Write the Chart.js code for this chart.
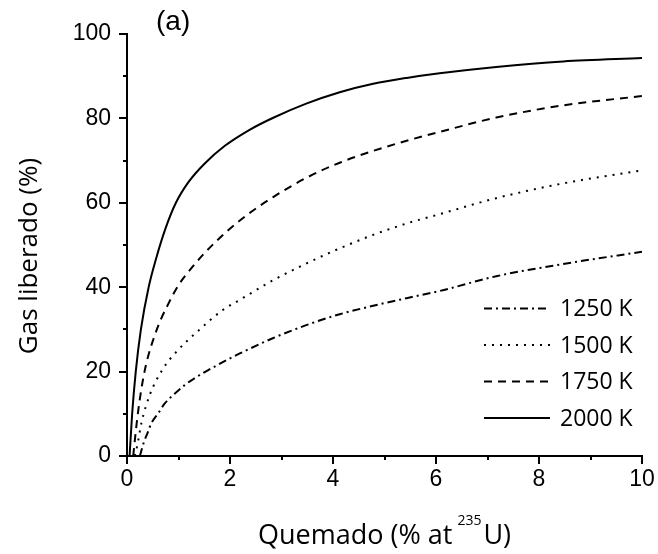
<!DOCTYPE html>
<html><head><meta charset="utf-8">
<script src="https://cdn.jsdelivr.net/npm/chart.js@4/dist/chart.umd.min.js"></script>
<style>html,body{margin:0;padding:0;background:#fff}canvas{display:block}</style>
</head><body>
<canvas id="c" width="658" height="554"></canvas>
<script>
// ---- data ----
const seriesLabels = ['1250 K', '1500 K', '1750 K', '2000 K'];

const burnup1250 = [0.25, 0.32, 0.4, 0.47, 0.6, 0.73, 0.93, 1.12, 1.31, 1.57, 1.93, 2.19, 2.83, 3.48, 4.13, 4.78, 5.43, 6.07, 7.17, 8.47, 10];
const gas1250    = [0, 3, 5.5, 7.7, 10, 12.4, 14.8, 16.8, 18.4, 20.3, 22.7, 24.3, 27.9, 31.0, 33.6, 35.6, 37.4, 39.1, 42.6, 45.5, 48.4];

const burnup1500 = [0.15, 0.2, 0.28, 0.44, 0.69, 0.99, 1.35, 1.86, 2.19, 2.83, 3.48, 4.13, 4.78, 5.43, 6.07, 7.17, 8.47, 10];
const gas1500    = [0, 2.5, 7.8, 14.4, 20.5, 25.1, 29.3, 34.6, 37.0, 41.6, 45.6, 49.2, 52.4, 55.1, 57.3, 61.1, 64.6, 67.7];

const burnup1750 = [0.12, 0.21, 0.34, 0.58, 0.8, 1.0, 1.25, 1.5, 1.9, 2.35, 2.83, 3.48, 4.13, 4.78, 5.43, 6.07, 7.17, 8.47, 10];
const gas1750    = [0, 10, 20, 30, 36, 40.5, 44.5, 48, 52.8, 57.3, 61.3, 65.9, 69.5, 72.3, 74.7, 76.8, 80.2, 83.1, 85.3];

const burnup2000 = [0.05, 0.1, 0.17, 0.27, 0.42, 0.57, 0.75, 0.95, 1.2, 1.5, 1.9, 2.38, 2.83, 3.48, 4.13, 4.78, 5.43, 6.07, 7.17, 8.47, 10];
const gas2000    = [0, 10, 20, 30, 40, 47, 54, 60, 65, 69.2, 73.5, 77.3, 80.1, 83.5, 86.2, 88.2, 89.6, 90.7, 92.2, 93.5, 94.3];

const xMajorTicks = [0, 2, 4, 6, 8, 10];
const xMinorTicks = [1, 3, 5, 7, 9];
const yMajorTicks = [0, 20, 40, 60, 80, 100];
const yMinorTicks = [10, 30, 50, 70, 90];

const xTitleMain = 'Quemado (% at ';
const xTitleSup = '235';
const xTitleEnd = 'U)';
const yTitleText = 'Gas liberado (%)';
const panelLabel = '(a)';

// ---- build ----
const pts = (xs, ys) => xs.map((x, i) => ({x: x, y: ys[i]}));
const dashes = [[8, 4, 2, 4], [2, 6], [8, 6], []];
const seriesData = [pts(burnup1250, gas1250), pts(burnup1500, gas1500), pts(burnup1750, gas1750), pts(burnup2000, gas2000)];

const datasets = seriesLabels.map((lab, i) => ({
  label: lab,
  data: seriesData[i],
  borderColor: '#000',
  borderWidth: 2,
  borderDash: dashes[i],
  pointRadius: 0,
  fill: false,
  cubicInterpolationMode: 'monotone'
}));

const TITLE_FONT = '"Open Sans", sans-serif';

const decor = {
  id: 'decor',
  afterDraw(chart) {
    const ctx = chart.ctx;
    const ca = chart.chartArea;
    const xs = chart.scales.x, ys = chart.scales.y;
    ctx.save();
    // minor ticks
    ctx.strokeStyle = '#000';
    ctx.lineWidth = 2;
    ctx.setLineDash([]);
    ctx.beginPath();
    xMinorTicks.forEach(v => {
      const p = Math.round(xs.getPixelForValue(v));
      ctx.moveTo(p, ca.bottom); ctx.lineTo(p, ca.bottom + 4);
    });
    yMinorTicks.forEach(v => {
      const p = Math.round(ys.getPixelForValue(v));
      ctx.moveTo(ca.left, p); ctx.lineTo(ca.left - 4, p);
    });
    ctx.stroke();

    // legend
    ctx.font = '23px ' + TITLE_FONT;
    ctx.fillStyle = '#000';
    ctx.textBaseline = 'middle';
    ctx.textAlign = 'left';
    const rowOff = [147.5, 111, 74.5, 38];
    chart.data.datasets.forEach((ds, i) => {
      const y = ca.bottom - rowOff[i];
      ctx.save();
      ctx.lineWidth = ds.borderWidth;
      ctx.setLineDash(ds.borderDash || []);
      ctx.beginPath();
      ctx.moveTo(ca.right - 158, y);
      ctx.lineTo(ca.right - 92, y);
      ctx.stroke();
      ctx.restore();
      ctx.fillText(ds.label, ca.right - 82, y + 1);
    });

    // x title with superscript
    ctx.textBaseline = 'alphabetic';
    ctx.font = '27px ' + TITLE_FONT;
    const w1 = ctx.measureText(xTitleMain).width;
    const w3 = ctx.measureText(xTitleEnd).width;
    ctx.font = '14px ' + TITLE_FONT;
    const w2 = ctx.measureText(xTitleSup).width;
    const total = w1 + w2 + w3;
    let x0 = (ca.left + ca.right) / 2 - total / 2;
    const base = 544;
    ctx.font = '27px ' + TITLE_FONT;
    ctx.fillText(xTitleMain, x0, base);
    ctx.font = '14px ' + TITLE_FONT;
    ctx.fillText(xTitleSup, x0 + w1 - 2, base - 19);
    ctx.font = '27px ' + TITLE_FONT;
    ctx.fillText(xTitleEnd, x0 + w1 + w2, base);

    // y title
    ctx.save();
    ctx.translate(37, 256);
    ctx.rotate(-Math.PI / 2);
    ctx.textAlign = 'center';
    ctx.font = '26px ' + TITLE_FONT;
    ctx.fillText(yTitleText, 0, 0);
    ctx.restore();

    // panel label
    ctx.font = '28px "Liberation Sans", Arial, sans-serif';
    ctx.textAlign = 'left';
    ctx.textBaseline = 'middle';
    ctx.fillText(panelLabel, 156, 22);
    ctx.restore();
  }
};

const tickFont = {family: '"Liberation Sans", Arial, sans-serif', size: 23};

new Chart(document.getElementById('c'), {
  type: 'line',
  data: {datasets: datasets},
  options: {
    responsive: false,
    animation: false,
    layout: {padding: {top: 34, right: 16, left: 0, bottom: 0}},
    plugins: {legend: {display: false}, tooltip: {enabled: false}, title: {display: false}},
    scales: {
      x: {
        type: 'linear', min: 0, max: 10,
        afterBuildTicks: s => { s.ticks = xMajorTicks.map(v => ({value: v})); },
        afterFit: s => { s.height = 98; },
        ticks: {font: tickFont, color: '#000', padding: 2, maxRotation: 0, autoSkip: false},
        grid: {drawOnChartArea: false, drawTicks: true, tickLength: 8, color: '#000', lineWidth: 2},
        border: {display: true, color: '#000', width: 2}
      },
      y: {
        type: 'linear', min: 0, max: 100,
        afterBuildTicks: s => { s.ticks = yMajorTicks.map(v => ({value: v})); },
        afterFit: s => { s.width = 127; },
        ticks: {font: tickFont, color: '#000', padding: 8, autoSkip: false},
        grid: {drawOnChartArea: false, drawTicks: true, tickLength: 8, color: '#000', lineWidth: 2},
        border: {display: true, color: '#000', width: 2}
      }
    }
  },
  plugins: [decor]
});
</script>
</body></html>
